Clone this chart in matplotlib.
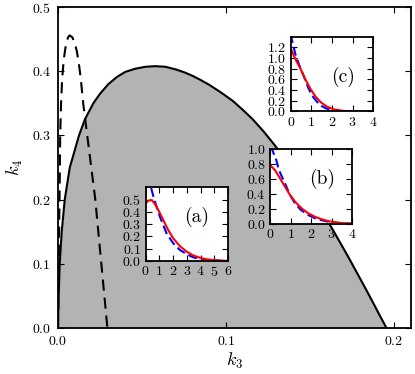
import numpy as np
import matplotlib
matplotlib.use('Agg')
import matplotlib.pyplot as plt

plt.rcParams['font.family'] = 'serif'
plt.rcParams['font.serif'] = ['cmr10']
plt.rcParams['mathtext.fontset'] = 'cm'
plt.rcParams['axes.formatter.use_mathtext'] = True
plt.rcParams['lines.scale_dashes'] = False
plt.rcParams['xtick.direction'] = 'in'
plt.rcParams['ytick.direction'] = 'in'
plt.rcParams['xtick.top'] = True
plt.rcParams['ytick.right'] = True
plt.rcParams['xtick.major.size'] = 4
plt.rcParams['ytick.major.size'] = 4

##### data #####
# boundary of the shaded region (solid)
k3_solid = [0, 0.0001, 0.0004, 0.001, 0.0022, 0.004, 0.007, 0.0125, 0.016, 0.021,
            0.025, 0.030, 0.035, 0.040, 0.046, 0.052, 0.058, 0.064, 0.070, 0.0756,
            0.080, 0.0845, 0.090, 0.097, 0.104, 0.110, 0.116, 0.1225, 0.129, 0.135,
            0.141, 0.147, 0.153, 0.158, 0.163, 0.168, 0.173, 0.178, 0.183, 0.1875,
            0.1915, 0.1956]
k4_solid = [0, 0.02, 0.05, 0.10, 0.15, 0.20, 0.25, 0.30, 0.325, 0.35,
            0.365, 0.38, 0.391, 0.399, 0.404, 0.407, 0.408, 0.407, 0.403, 0.398,
            0.393, 0.387, 0.379, 0.367, 0.354, 0.340, 0.325, 0.306, 0.285, 0.264,
            0.243, 0.221, 0.198, 0.177, 0.156, 0.133, 0.110, 0.086, 0.062, 0.040,
            0.020, 0.0]

# dashed curve
k3_dash = [0, 0.0004, 0.0009, 0.0013, 0.0018, 0.0025, 0.0035, 0.0048, 0.006, 0.0069,
           0.0085, 0.010, 0.0113, 0.0125, 0.0135, 0.015, 0.0174, 0.0198, 0.0222, 0.024,
           0.0258, 0.0276, 0.0294]
k4_dash = [0, 0.10, 0.20, 0.30, 0.35, 0.39, 0.42, 0.443, 0.453, 0.456,
           0.453, 0.444, 0.43, 0.41, 0.39, 0.35, 0.30, 0.25, 0.20, 0.15,
           0.10, 0.05, 0.0]

# insets: red solid and blue dashed
a_red_x = [0, 0.2, 0.44, 0.7, 0.92, 1.28, 1.6, 2.0, 2.5, 2.98, 3.45, 3.94, 4.4, 4.9, 5.5, 6.0]
a_red_y = [0.47, 0.492, 0.497, 0.46, 0.415, 0.334, 0.26, 0.185, 0.12, 0.076, 0.046,
           0.027, 0.015, 0.008, 0.004, 0.002]
a_blue_x = [0.25, 0.385, 0.6, 0.8, 1.04, 1.25, 1.52, 2.0, 2.49, 3.0, 3.46, 4.0, 4.43, 5.0, 5.5]
a_blue_y = [0.70, 0.60, 0.51, 0.44, 0.36, 0.30, 0.225, 0.145, 0.09, 0.055, 0.03,
            0.015, 0.008, 0.004, 0.002]

b_red_x = [0, 0.25, 0.49, 0.73, 0.97, 1.25, 1.54, 1.85, 2.18, 2.6, 2.99, 3.5, 4.0]
b_red_y = [0.79, 0.72, 0.61, 0.50, 0.39, 0.29, 0.21, 0.145, 0.098, 0.056, 0.031, 0.013, 0.005]
b_blue_x = [0.05, 0.1, 0.2, 0.3, 0.44, 0.6, 0.73, 0.95, 1.21, 1.5, 1.86, 2.25, 2.67, 3.1, 3.48, 4.0]
b_blue_y = [1.04, 1.0, 0.93, 0.86, 0.72, 0.62, 0.545, 0.40, 0.28, 0.19, 0.12, 0.07,
            0.04, 0.02, 0.01, 0.004]

c_red_x = [0, 0.22, 0.47, 0.7, 0.95, 1.2, 1.44, 1.75, 2.08, 2.5, 3.05, 4.0]
c_red_y = [1.18, 0.985, 0.80, 0.61, 0.425, 0.28, 0.177, 0.09, 0.04, 0.012, 0.002, 0.0]
c_blue_x = [0.0, 0.03, 0.22, 0.4, 0.55, 0.87, 1.05, 1.28, 1.5, 1.76, 2.1, 2.6, 3.5]
c_blue_y = [1.45, 1.39, 1.08, 0.88, 0.74, 0.425, 0.29, 0.177, 0.10, 0.05, 0.02, 0.004, 0.0]
####################################

fig = plt.figure(figsize=(4.15, 3.74), dpi=100)
ax = fig.add_axes([0.1398, 0.123, 0.8498, 0.858])

ax.fill_between(k3_solid, k4_solid, color='0.7', lw=0)
ax.plot(k3_solid, k4_solid, color='k', lw=1.5)
ax.plot(k3_dash, k4_dash, color='k', lw=1.5, dashes=(8, 5))
ax.set_xlim(0, 0.21)
ax.set_ylim(0, 0.5)
ax.set_xticks([0, 0.1, 0.2])
ax.set_yticks([0, 0.1, 0.2, 0.3, 0.4, 0.5])
ax.tick_params(labelsize=10, pad=5)
ax.set_xlabel(r'$k_3$', fontsize=13, labelpad=2)
ax.set_ylabel(r'$k_4$', fontsize=13, labelpad=5)
for s in ax.spines.values():
    s.set_linewidth(1.3)

insets = [
    ([0.351, 0.302, 0.199, 0.197], a_red_x, a_red_y, a_blue_x, a_blue_y,
     (0, 6), (0, 0.6), range(7), [0, 0.1, 0.2, 0.3, 0.4, 0.5], '(a)', (0.62, 0.6)),
    ([0.6506, 0.401, 0.198, 0.1997], b_red_x, b_red_y, b_blue_x, b_blue_y,
     (0, 4), (0, 1.0), range(5), [0, 0.2, 0.4, 0.6, 0.8, 1.0], '(b)', (0.64, 0.6)),
    ([0.7005, 0.702, 0.199, 0.2], c_red_x, c_red_y, c_blue_x, c_blue_y,
     (0, 4), (0, 1.4), range(5), [0, 0.2, 0.4, 0.6, 0.8, 1.0, 1.2], '(c)', (0.63, 0.46)),
]

for rect, rx, ry, bx, by, xl, yl, xt, yt, lab, lpos in insets:
    ia = fig.add_axes(rect)
    ia.plot(bx, by, color='b', lw=1.5, dashes=(6.5, 3))
    ia.plot(rx, ry, color='r', lw=1.5)
    ia.set_xlim(*xl)
    ia.set_ylim(*yl)
    ia.set_xticks(list(xt))
    ia.set_yticks(yt)
    ia.tick_params(labelsize=10, pad=3, length=4)
    ia.text(lpos[0], lpos[1], lab, transform=ia.transAxes, fontsize=14,
            ha='center', va='center')
    for s in ia.spines.values():
        s.set_linewidth(1.3)

fig.savefig('out.png', dpi=100)
